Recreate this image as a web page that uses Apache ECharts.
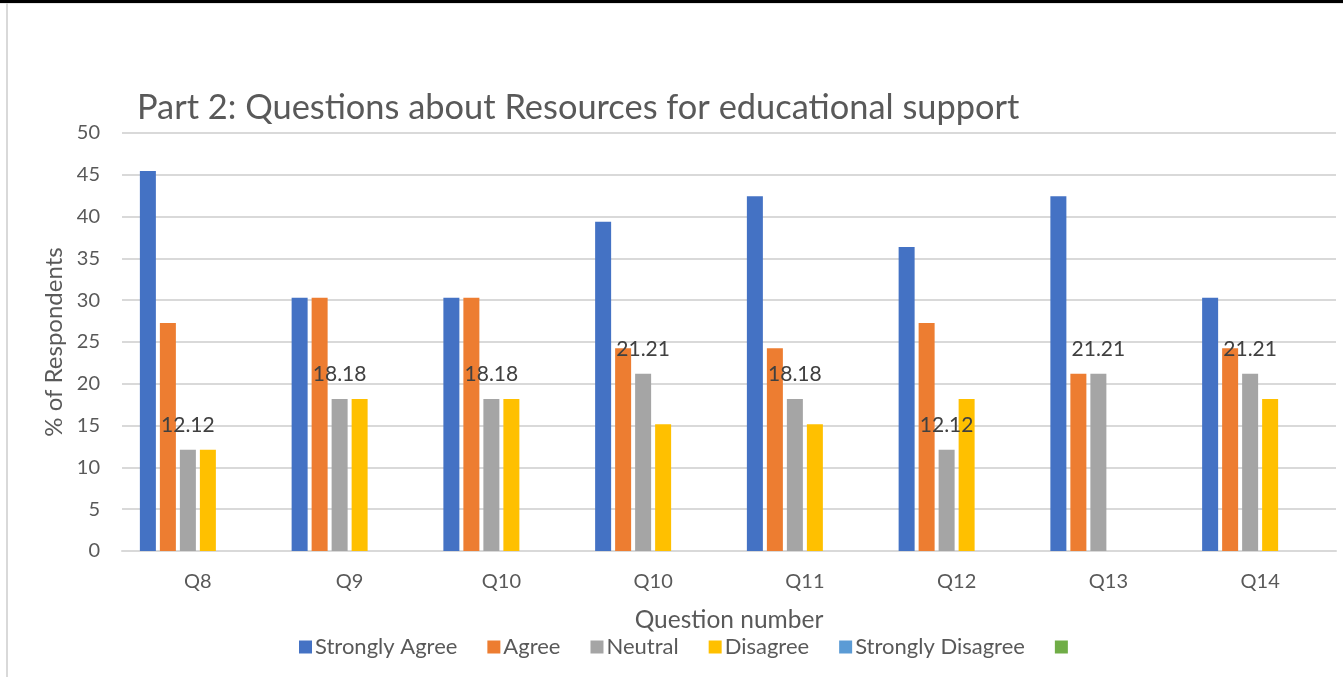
<!DOCTYPE html>
<html>
<head>
<meta charset="utf-8">
<script src="https://cdn.jsdelivr.net/npm/echarts@6/dist/echarts.min.js"></script>
<style>html,body{margin:0;padding:0;background:#fff;}#c{width:1343px;height:677px;}</style>
</head>
<body>
<div id="c"></div>
<script>
const categories = ['Q8', 'Q9', 'Q10', 'Q10', 'Q11', 'Q12', 'Q13', 'Q14'];
const stronglyAgree = [45.45, 30.30, 30.30, 39.39, 42.42, 36.36, 42.42, 30.30];
const agree = [27.27, 30.30, 30.30, 24.24, 24.24, 27.27, 21.21, 24.24];
const neutral = [12.12, 18.18, 18.18, 21.21, 18.18, 12.12, 21.21, 21.21];
const disagree = [12.12, 18.18, 18.18, 15.15, 15.15, 18.18, 0, 18.18];
const stronglyDisagree = [0, 0, 0, 0, 0, 0, 0, 0];
const blankSeries = [0, 0, 0, 0, 0, 0, 0, 0];
const yTicks = { min: 0, max: 50, interval: 5 };

const FONT = 'Lato';
const chart = echarts.init(document.getElementById('c'), null, { renderer: 'canvas' });

function bar(name, data, color, extra) {
  return Object.assign({
    name: name,
    type: 'bar',
    data: data,
    barWidth: 16,
    barGap: '25%',
    itemStyle: { color: color },
    emphasis: { disabled: true }
  }, extra || {});
}

chart.setOption({
  animation: false,
  backgroundColor: '#ffffff',
  textStyle: { fontFamily: FONT },
  title: {
    text: 'Part 2: Questions about Resources for educational support',
    left: 132,
    top: 86,
    textStyle: { fontFamily: FONT, fontSize: 34.4, fontWeight: 'normal', color: '#595959' }
  },
  grid: { left: 122, right: 7, top: 133, bottom: 126, containLabel: false },
  legend: {
    left: 294,
    top: 631,
    itemWidth: 13,
    itemHeight: 13,
    itemGap: 30,
    icon: 'rect',
    textStyle: { fontFamily: FONT, fontSize: 22, color: '#595959', padding: [0, 0, 0, -2] },
    data: ['Strongly Agree', 'Agree', 'Neutral', 'Disagree', 'Strongly Disagree', ' ']
  },
  xAxis: {
    type: 'category',
    data: categories,
    name: 'Question number',
    nameLocation: 'middle',
    nameGap: 57,
    nameTextStyle: { fontFamily: FONT, fontSize: 24.5, color: '#595959' },
    axisLine: { lineStyle: { color: '#d9d9d9', width: 2 } },
    axisTick: { show: false },
    axisLabel: { fontFamily: FONT, fontSize: 20, color: '#595959', margin: 21 }
  },
  yAxis: {
    type: 'value',
    min: yTicks.min,
    max: yTicks.max,
    interval: yTicks.interval,
    name: '% of Respondents',
    nameLocation: 'middle',
    nameGap: 56,
    nameTextStyle: { fontFamily: FONT, fontSize: 24, color: '#595959' },
    axisLine: { show: false },
    axisTick: { show: false },
    axisLabel: { fontFamily: FONT, fontSize: 20, color: '#595959', margin: 22 },
    splitLine: { lineStyle: { color: '#d9d9d9', width: 2 } }
  },
  series: [
    bar('Strongly Agree', stronglyAgree, '#4472C4'),
    bar('Agree', agree, '#ED7D31'),
    bar('Neutral', neutral, '#A5A5A5', {
      z: 5,
      label: {
        show: true,
        position: 'top',
        distance: 14,
        fontFamily: FONT,
        fontSize: 21,
        color: '#404040',
        formatter: function (p) { return p.value.toFixed(2); }
      }
    }),
    bar('Disagree', disagree, '#FFC000'),
    bar('Strongly Disagree', stronglyDisagree, '#5B9BD5'),
    bar(' ', blankSeries, '#70AD47')
  ],
  graphic: [
    { type: 'rect', shape: { x: 0, y: 0, width: 1343, height: 3 }, style: { fill: '#000' }, silent: true },
    { type: 'rect', shape: { x: 0, y: 3, width: 1343, height: 1 }, style: { fill: '#e6e6e6' }, silent: true },
    { type: 'rect', shape: { x: 6, y: 3, width: 2, height: 674 }, style: { fill: '#d9d9d9' }, silent: true }
  ]
});
</script>
</body>
</html>
